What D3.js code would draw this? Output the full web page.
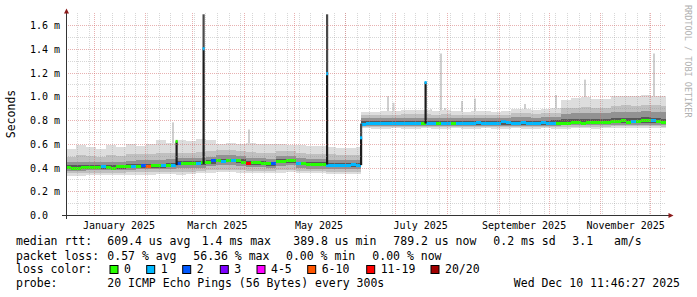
<!DOCTYPE html>
<html>
<head>
<meta charset="utf-8">
<script src="https://cdn.jsdelivr.net/npm/d3@7"></script>
<style>
  body { margin: 0; background: #fff; }
  svg { display: block; }
  text { font-family: "DejaVu Sans Mono", monospace; fill: #000; }
</style>
</head>
<body>
<svg id="chart" width="697" height="297"></svg>
<script>
// graph end time, the window is the last 360 days
const END = new Date(2025, 11, 10, 11, 46, 27);
const SPAN_DAYS = 360;

// median rtt (ms), one value every 3 days from the start
const STEP_DAYS = 3;
const medianRtt = [
  0.40,0.39,0.395,0.40,0.40,0.40,0.40,0.405,0.40,0.39,0.405,0.41,0.41,0.41,0.41,0.415,0.41,0.415,0.415,0.42,0.415,0.42,
  0.43,0.435,0.435,0.435,0.43,0.44,0.44,0.455,0.463,0.45,0.455,0.46,0.455,0.44,0.435,0.44,0.44,0.43,0.43,0.43,0.45,0.452,0.455,0.455,0.435,0.43,0.425,0.425,0.425,0.425,0.42,0.42,0.418,0.42,0.42,0.422,0.42,
  0.765,0.77,0.772,0.77,0.768,0.77,0.772,0.77,0.768,0.77,
  0.772,0.77,0.77,0.768,0.77,0.772,0.77,0.768,0.77,0.772,
  0.77,0.77,0.772,0.775,0.77,0.768,0.77,0.772,0.785,0.775,
  0.77,0.772,0.775,0.772,0.77,0.772,0.775,0.772,0.77,
  0.768,0.77,0.772,0.78,0.775,0.772,0.776,0.775,0.778,0.777,0.778,0.786,0.786,0.80,0.78,0.79,0.79,0.792,0.794,0.795,0.785,0.78
];
// lost pings out of 20 for the same steps
const lossCount = [
  0,0,0,0,0,0,0,1,0,0,0,0,0,1,0,2,7,0,0,1,0,1,
  2,0,0,0,1,0,0,2,0,1,0,1,0,0,15,0,0,0,0,2,0,0,0,0,1,0,0,0,0,0,1,1,1,1,1,1,1,
  1,1,1,1,1,1,1,1,1,1,1,1,0,1,1,0,1,1,0,
  1,1,1,1,1,1,1,1,1,1,1,1,1,1,1,1,1,1,1,1,
  0,0,0,0,0,0,0,0,0,0,0,0,0,0,0,1,0,0,0,1,0,0
];

// smoke (ping distribution), day offsets where each block starts
const smokeDays = [
  0,6,12,18,24,30,36,42,48,54,60,
  66,72,78,84,90,96,102,108,114,120,126,132,138,144,150,156,162,168,174,
  177,183,189,195,201,207,213,219,225,231,237,243,249,255,261,267,273,279,285,291,297,303,309,315,321,327,333,339,345,351,357
];
const smokeLo = [
  0.33,0.33,0.335,0.335,0.335,0.335,0.34,0.34,0.34,0.345,0.345,
  0.34,0.345,0.35,0.355,0.36,0.36,0.355,0.35,0.35,0.35,0.355,0.36,0.35,0.35,0.35,0.345,0.345,0.345,0.345,
  0.73,0.728,0.728,0.73,0.728,0.728,0.73,0.728,0.728,0.73,
  0.728,0.728,0.73,0.728,0.728,0.73,0.728,0.728,0.73,0.728,
  0.728,0.73,0.73,0.728,0.73,0.73,0.732,0.73,0.732,0.73,0.73
];
const smokeP10 = [
  0.35,0.35,0.355,0.355,0.355,0.355,0.36,0.36,0.36,0.365,0.365,
  0.36,0.365,0.37,0.375,0.38,0.38,0.375,0.37,0.37,0.37,0.375,0.38,0.37,0.37,0.37,0.365,0.365,0.365,0.365,
  0.742,0.74,0.74,0.742,0.74,0.74,0.742,0.74,0.74,0.742,
  0.74,0.74,0.742,0.74,0.74,0.742,0.742,0.74,0.742,0.742,
  0.744,0.744,0.745,0.744,0.744,0.746,0.746,0.746,0.748,0.746,0.745
];
const smokeP25 = [
  0.37,0.372,0.375,0.375,0.375,0.375,0.382,0.385,0.385,0.387,0.39,
  0.398,0.40,0.40,0.412,0.422,0.422,0.415,0.402,0.402,0.395,0.415,0.42,0.397,0.39,0.39,0.385,0.385,0.385,0.385,
  0.752,0.75,0.75,0.752,0.75,0.75,0.752,0.75,0.75,0.752,
  0.75,0.75,0.752,0.75,0.75,0.752,0.752,0.75,0.752,0.752,
  0.754,0.755,0.756,0.755,0.756,0.758,0.76,0.76,0.762,0.758,0.756
];
const smokeP40 = [
  0.385,0.388,0.39,0.39,0.39,0.388,0.395,0.398,0.398,0.40,0.403,
  0.419,0.421,0.421,0.433,0.443,0.443,0.436,0.423,0.423,0.416,0.436,0.441,0.418,0.411,0.411,0.406,0.406,0.406,0.406,
  0.76,0.76,0.762,0.76,0.76,0.762,0.76,0.76,0.762,0.76,
  0.76,0.762,0.762,0.76,0.762,0.765,0.762,0.76,0.762,0.762,
  0.762,0.765,0.766,0.766,0.767,0.772,0.775,0.776,0.778,0.772,0.77
];
const smokeP60 = [
  0.418,0.42,0.42,0.42,0.42,0.418,0.428,0.43,0.43,0.432,0.435,
  0.451,0.453,0.453,0.465,0.475,0.475,0.468,0.455,0.455,0.448,0.468,0.473,0.45,0.443,0.443,0.438,0.438,0.438,0.438,
  0.79,0.792,0.792,0.79,0.792,0.795,0.792,0.79,0.792,0.79,
  0.79,0.792,0.792,0.79,0.795,0.795,0.794,0.792,0.794,0.796,
  0.805,0.808,0.81,0.808,0.808,0.815,0.82,0.82,0.825,0.818,0.812
];
const smokeP75 = [
  0.445,0.45,0.448,0.447,0.45,0.448,0.458,0.46,0.46,0.465,0.468,
  0.478,0.48,0.48,0.492,0.502,0.502,0.495,0.482,0.482,0.475,0.495,0.50,0.477,0.47,0.47,0.465,0.465,0.465,0.465,
  0.815,0.815,0.818,0.818,0.82,0.82,0.82,0.818,0.82,0.818,
  0.815,0.818,0.818,0.815,0.818,0.822,0.822,0.82,0.822,0.825,
  0.85,0.855,0.86,0.855,0.855,0.865,0.87,0.87,0.875,0.87,0.865
];
const smokeP90 = [
  0.49,0.505,0.50,0.49,0.505,0.495,0.51,0.51,0.515,0.525,0.52,
  0.525,0.525,0.53,0.54,0.545,0.545,0.54,0.53,0.525,0.52,0.54,0.54,0.52,0.515,0.515,0.51,0.505,0.505,0.505,
  0.84,0.84,0.845,0.845,0.85,0.85,0.85,0.845,0.85,0.845,
  0.84,0.845,0.845,0.84,0.845,0.855,0.855,0.85,0.855,0.86,
  0.90,0.905,0.91,0.905,0.90,0.92,0.925,0.92,0.93,0.925,0.92
];
const smokeHi = [
  0.56,0.59,0.575,0.56,0.59,0.575,0.60,0.58,0.60,0.63,0.61,
  0.63,0.62,0.64,0.63,0.60,0.605,0.60,0.61,0.60,0.595,0.60,0.59,0.59,0.58,0.585,0.57,0.565,0.565,0.57,
  0.87,0.87,0.875,0.875,0.885,0.885,0.885,0.88,0.885,0.875,
  0.87,0.875,0.875,0.87,0.875,0.89,0.89,0.885,0.89,0.90,
  0.97,0.985,0.99,0.98,0.975,1.0,1.005,1.0,1.01,1.005,1.0
];

// short bursts where the whole step is spread wide
const spikeDay  = [65.7, 81.9, 156.0, 176.4, 215.1];
const spikeLo   = [0.42, 0.43, 0.425, 0.42, 0.77];
const spikeMed  = [0.62, 1.40, 1.19, 0.65, 1.115];
const spikeHi   = [0.62, 1.69, 1.69, 0.77, 1.12];
const spikeLoss = [0, 1, 1, 1, 1];

// single slow pings sticking out of the smoke
const outlierDay = [63.6, 109.2, 192.6, 195.9, 218.4, 222.6, 224.4, 226.8, 237.0, 244.8, 274.8, 293.4, 310.8, 352.2];
const outlierLo  = [0.50, 0.55, 0.80, 0.80, 0.80, 0.80, 0.80, 0.80, 0.80, 0.80, 0.80, 0.80, 0.90, 0.90];
const outlierHi  = [0.78, 0.72, 1.00, 0.945, 0.89, 0.875, 1.36, 0.90, 0.96, 0.98, 0.935, 1.01, 1.14, 1.36];

const yTickValues = [0, 0.2, 0.4, 0.6, 0.8, 1.0, 1.2, 1.4, 1.6];
const yTickLabels = ["0.0", "0.2 m", "0.4 m", "0.6 m", "0.8 m", "1.0 m", "1.2 m", "1.4 m", "1.6 m"];
const xLabelMonths = ["2025-01", "2025-03", "2025-05", "2025-07", "2025-09", "2025-11"];

const lossLabels = ["0", "1", "2", "3", "4-5", "6-10", "11-19", "20/20"];
const lossLimits = [0, 1, 2, 3, 5, 10, 19, 20];
const lossColors = ["#26ff00", "#00b8ff", "#0059ff", "#7e00ff", "#ff00ff", "#ff5500", "#ff0000", "#a10000"];

const rttLegend = ["609.4 us avg", "1.4 ms max", "389.8 us min", "789.2 us now", "0.2 ms sd", "3.1", "am/s"];
const lossLegend = ["0.57 % avg", "56.36 % max", "0.00 % min", "0.00 % now"];
const probeText = "20 ICMP Echo Pings (56 Bytes) every 300s";
const stampText = "Wed Dec 10 11:46:27 2025";

// ---------------------------------------------------------------
const START = d3.timeDay.offset(END, -SPAN_DAYS);
const dayToDate = d => new Date(START.getTime() + d * 864e5);

const plotLeft = 66, plotRight = 666, plotTop = 13.125, plotBottom = 215;

const x = d3.scaleTime().domain([START, END]).range([plotLeft, plotRight]);
const y = d3.scaleLinear().domain([0, 1.7]).range([plotBottom, plotTop]);

const lossColor = n => lossColors[lossLimits.findIndex(l => n <= l)];

const svg = d3.select("#chart");

// outliers first, the smoke covers their foot
svg.append("g").selectAll("rect")
  .data(outlierDay)
  .join("rect")
  .attr("x", d => x(dayToDate(d)))
  .attr("width", 2)
  .attr("y", (d, i) => y(outlierHi[i]))
  .attr("height", (d, i) => y(outlierLo[i]) - y(outlierHi[i]))
  .attr("fill", "#cfcfcf");

// smoke bands, outer to inner
const bands = [
  [smokeLo, smokeHi, "#dddddd"],
  [smokeP10, smokeP90, "#c0c0c0"],
  [smokeP25, smokeP75, "#929292"],
  [smokeP40, smokeP60, "#585858"]
];
const smokeEnd = i => i + 1 < smokeDays.length ? smokeDays[i + 1] : SPAN_DAYS;

bands.forEach(([lo, hi, color]) => {
  svg.append("g").selectAll("rect")
    .data(smokeDays)
    .join("rect")
    .attr("x", d => x(dayToDate(d)))
    .attr("width", (d, i) => x(dayToDate(smokeEnd(i))) - x(dayToDate(d)))
    .attr("y", (d, i) => y(hi[i]))
    .attr("height", (d, i) => y(lo[i]) - y(hi[i]))
    .attr("fill", color)
    .attr("shape-rendering", "crispEdges");
});

// median bar coloured by loss
svg.append("g").selectAll("rect")
  .data(medianRtt)
  .join("rect")
  .attr("x", (d, i) => x(dayToDate(i * STEP_DAYS)))
  .attr("width", (d, i) => x(dayToDate((i + 1) * STEP_DAYS)) - x(dayToDate(i * STEP_DAYS)))
  .attr("y", d => y(d) - 1.5)
  .attr("height", 3)
  .attr("fill", (d, i) => lossColor(lossCount[i]))
  .attr("shape-rendering", "crispEdges");

// spikes
const spikes = svg.append("g");
spikes.selectAll("rect.low")
  .data(spikeDay)
  .join("rect")
  .attr("class", "low")
  .attr("x", d => x(dayToDate(d)))
  .attr("width", 2.2)
  .attr("y", (d, i) => y(spikeMed[i]))
  .attr("height", (d, i) => y(spikeLo[i]) - y(spikeMed[i]))
  .attr("fill", "#1c1c1c");
spikes.selectAll("rect.high")
  .data(spikeDay)
  .join("rect")
  .attr("class", "high")
  .attr("x", d => x(dayToDate(d)))
  .attr("width", 2.2)
  .attr("y", (d, i) => y(spikeHi[i]))
  .attr("height", (d, i) => y(spikeMed[i]) - y(spikeHi[i]))
  .attr("fill", "#4a4a4a");
spikes.selectAll("rect.med")
  .data(spikeDay)
  .join("rect")
  .attr("class", "med")
  .attr("x", d => x(dayToDate(d)))
  .attr("width", 2.2)
  .attr("y", (d, i) => y(spikeMed[i]) - 1.5)
  .attr("height", 3)
  .attr("fill", (d, i) => lossColor(spikeLoss[i]));

// grid on top, like rrdtool
const grid = svg.append("g").attr("shape-rendering", "crispEdges").attr("stroke-dasharray", "1,1");
const px = v => Math.round(v) + 0.5;
const minorColor = "rgba(150,150,150,0.38)";
const majorColor = "rgba(210,100,100,0.5)";

const sundays = d3.timeSunday.range(START, END);
const months = d3.timeMonth.range(START, END);
grid.selectAll("line.vmin").data(sundays).join("line")
  .attr("x1", d => px(x(d))).attr("x2", d => px(x(d)))
  .attr("y1", plotTop).attr("y2", plotBottom)
  .attr("stroke", minorColor);
grid.selectAll("line.vmaj").data(months).join("line")
  .attr("x1", d => px(x(d))).attr("x2", d => px(x(d)))
  .attr("y1", plotTop).attr("y2", plotBottom)
  .attr("stroke", majorColor);

const yMinor = d3.range(1, 17).map(k => k / 10).filter((v, k) => k % 2 === 0);
grid.selectAll("line.hmin").data(yMinor).join("line")
  .attr("x1", plotLeft).attr("x2", plotRight)
  .attr("y1", d => px(y(d))).attr("y2", d => px(y(d)))
  .attr("stroke", minorColor);
grid.selectAll("line.hmaj").data(yTickValues.slice(1)).join("line")
  .attr("x1", plotLeft).attr("x2", plotRight)
  .attr("y1", d => px(y(d))).attr("y2", d => px(y(d)))
  .attr("stroke", majorColor);

// axes
const yAxis = svg.append("g")
  .attr("transform", `translate(${plotLeft},0)`)
  .call(d3.axisLeft(y).tickValues(yTickValues).tickSize(0).tickFormat((d, i) => yTickLabels[i]));
yAxis.select(".domain").remove();
yAxis.selectAll("text")
  .attr("x", -36).attr("dy", "0.35em")
  .attr("text-anchor", "start")
  .style("font-size", "10px").style("font-family", "DejaVu Sans Mono");

const labelDates = xLabelMonths.map(s => d3.timeDay.offset(d3.timeParse("%Y-%m")(s), 15));
const xAxis = svg.append("g")
  .attr("transform", `translate(0,${plotBottom})`)
  .call(d3.axisBottom(x).tickValues(labelDates).tickSize(0).tickFormat(d3.timeFormat("%B %Y")));
xAxis.select(".domain").remove();
xAxis.selectAll("text")
  .attr("y", 13.5).attr("dy", 0)
  .style("font-size", "10px").style("font-family", "DejaVu Sans Mono");

svg.append("line").attr("x1", 62).attr("x2", 670).attr("y1", 215.5).attr("y2", 215.5)
  .attr("stroke", "#333").attr("shape-rendering", "crispEdges");
svg.append("line").attr("x1", 66.5).attr("x2", 66.5).attr("y1", 219).attr("y2", 11)
  .attr("stroke", "#333").attr("shape-rendering", "crispEdges");
svg.append("path").attr("d", "M64,13.5 L69,13.5 L66.5,8.5 Z").attr("fill", "#8b1a1a");
svg.append("path").attr("d", "M668.5,213 L668.5,218 L673.5,215.5 Z").attr("fill", "#8b1a1a");

// labels
svg.append("text")
  .attr("transform", "translate(15,114) rotate(-90)")
  .attr("text-anchor", "middle")
  .style("font-size", "11.5px")
  .text("Seconds");

svg.append("text")
  .attr("transform", "translate(685,5) rotate(90)")
  .style("font-size", "8.5px").style("fill", "#b0b0b0")
  .text("RRDTOOL / TOBI OETIKER");

// legend
const legend = svg.append("g").style("font-size", "11.5px");
const rttX = [107.3, 201.7, 293.3, 393.3, 493.3, 572.3, 614];
const lossX = [107.3, 193.3, 286, 372.3];
const boxTextX = [124, 160.7, 196.7, 234.3, 271, 321.7, 380.7, 445];

legend.append("text").attr("x", 16).attr("y", 245).text("median rtt:");
legend.selectAll("text.rtt").data(rttLegend).join("text").attr("class", "rtt")
  .attr("x", (d, i) => rttX[i]).attr("y", 245).text(d => d);

legend.append("text").attr("x", 16).attr("y", 259.5).text("packet loss:");
legend.selectAll("text.loss").data(lossLegend).join("text").attr("class", "loss")
  .attr("x", (d, i) => lossX[i]).attr("y", 259.5).text(d => d);

legend.append("text").attr("x", 16).attr("y", 273).text("loss color:");
legend.selectAll("rect.box").data(lossLabels).join("rect").attr("class", "box")
  .attr("x", (d, i) => boxTextX[i] - 14.5 + 0.5).attr("y", 265.5)
  .attr("width", 8).attr("height", 8)
  .attr("fill", (d, i) => lossColors[i])
  .attr("stroke", "#000").attr("stroke-width", 1);
legend.selectAll("text.lab").data(lossLabels).join("text").attr("class", "lab")
  .attr("x", (d, i) => boxTextX[i]).attr("y", 273).text(d => d);

legend.append("text").attr("x", 16).attr("y", 287).text("probe:");
legend.append("text").attr("x", 107.3).attr("y", 287).text(probeText);
legend.append("text").attr("x", 680).attr("y", 287).attr("text-anchor", "end").text(stampText);
</script>
</body>
</html>
